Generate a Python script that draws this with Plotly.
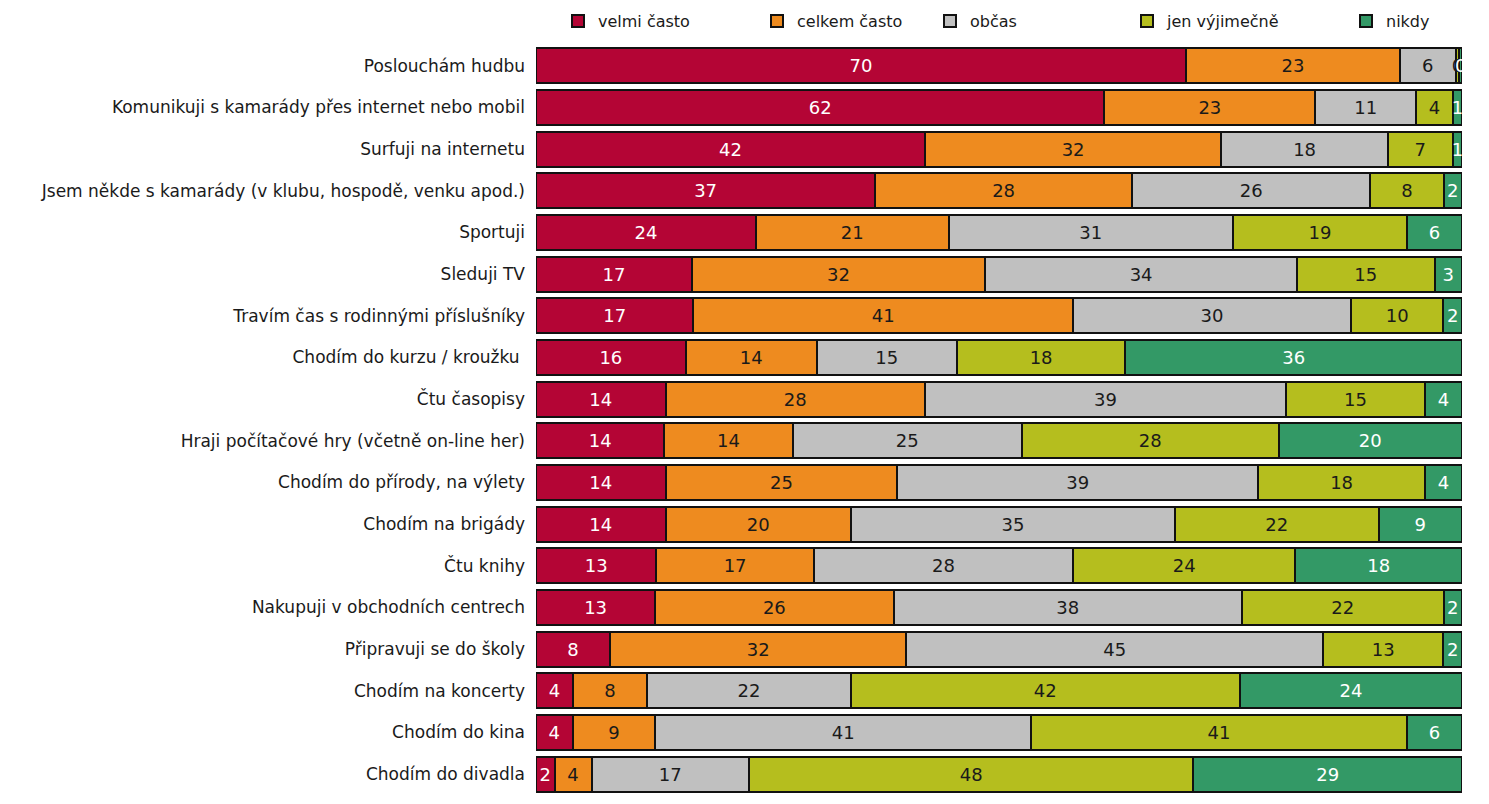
import plotly.graph_objects as go

categories = [
    "Poslouchám hudbu",
    "Komunikuji s kamarády přes internet nebo mobil",
    "Surfuji na internetu",
    "Jsem někde s kamarády (v klubu, hospodě, venku apod.)",
    "Sportuji",
    "Sleduji TV",
    "Travím čas s rodinnými příslušníky",
    "Chodím do kurzu / kroužku ",
    "Čtu časopisy",
    "Hraji počítačové hry (včetně on-line her)",
    "Chodím do přírody, na výlety",
    "Chodím na brigády",
    "Čtu knihy",
    "Nakupuji v obchodních centrech",
    "Připravuji se do školy",
    "Chodím na koncerty",
    "Chodím do kina",
    "Chodím do divadla",
]

velmi_casto = [70, 62, 42, 37, 24, 17, 17, 16, 14, 14, 14, 14, 13, 13, 8, 4, 4, 2]
celkem_casto = [23, 23, 32, 28, 21, 32, 41, 14, 28, 14, 25, 20, 17, 26, 32, 8, 9, 4]
obcas = [6, 11, 18, 26, 31, 34, 30, 15, 39, 25, 39, 35, 28, 38, 45, 22, 41, 17]
jen_vyjimecne = [0.4, 4, 7, 8, 19, 15, 10, 18, 15, 28, 18, 22, 24, 22, 13, 42, 41, 48]
nikdy = [0.3, 1, 1, 2, 6, 3, 2, 36, 4, 20, 4, 9, 18, 2, 2, 24, 6, 29]

series_names = ["velmi často", "celkem často", "občas", "jen výjimečně", "nikdy"]
series_values = [velmi_casto, celkem_casto, obcas, jen_vyjimecne, nikdy]
colors = ["#B40535", "#EE8B1F", "#C0C0C0", "#B5BE1E", "#339966"]
text_colors = ["white", "#1a1a1a", "#1a1a1a", "#1a1a1a", "white"]

FONT = "DejaVu Sans, Verdana, sans-serif"

# legend text start positions (px) for manual legend placement
legend_text_px = [598, 797, 970, 1167, 1386]
L, R, T, B = 536, 27, 45, 9
W, H = 1489, 804
pw = W - L - R
ph = H - T - B

fig = go.Figure()
layout_legends = {}
for i, (name, vals, c, tc) in enumerate(zip(series_names, series_values, colors, text_colors)):
    lg = "legend" if i == 0 else f"legend{i+1}"
    fig.add_trace(go.Bar(
        y=categories, x=vals, orientation="h", name=name,
        marker=dict(color=c, line=dict(color="#111111", width=2)),
        text=[f"{v:.0f}" for v in vals],
        textposition="inside", insidetextanchor="middle",
        constraintext="none",
        insidetextfont=dict(color=tc, size=18, family=FONT),
        legend=lg, cliponaxis=True,
        hoverinfo="name+x",
    ))
    layout_legends[lg] = dict(
        x=(legend_text_px[i] - 40 - L) / pw, xanchor="left",
        y=1 + (T - 21) / ph, yanchor="middle",
        orientation="h", bgcolor="rgba(0,0,0,0)",
        font=dict(size=16, family=FONT, color="#1a1a1a"),
        itemclick=False,
    )

fig.update_layout(
    barmode="stack", barnorm="percent", bargap=0.16,
    width=W, height=H,
    margin=dict(l=L, r=R, t=T, b=B, autoexpand=False),
    plot_bgcolor="white", paper_bgcolor="white",
    font=dict(family=FONT, color="#1a1a1a"),
    showlegend=True,
    **layout_legends,
)
fig.update_xaxes(range=[0, 100], visible=False, showgrid=False, fixedrange=True)
fig.update_yaxes(autorange="reversed", showgrid=False, showline=False,
                 ticks="", ticklabelstandoff=10,
                 tickfont=dict(size=17, family=FONT, color="#1a1a1a"))

fig.write_html("out.html")
